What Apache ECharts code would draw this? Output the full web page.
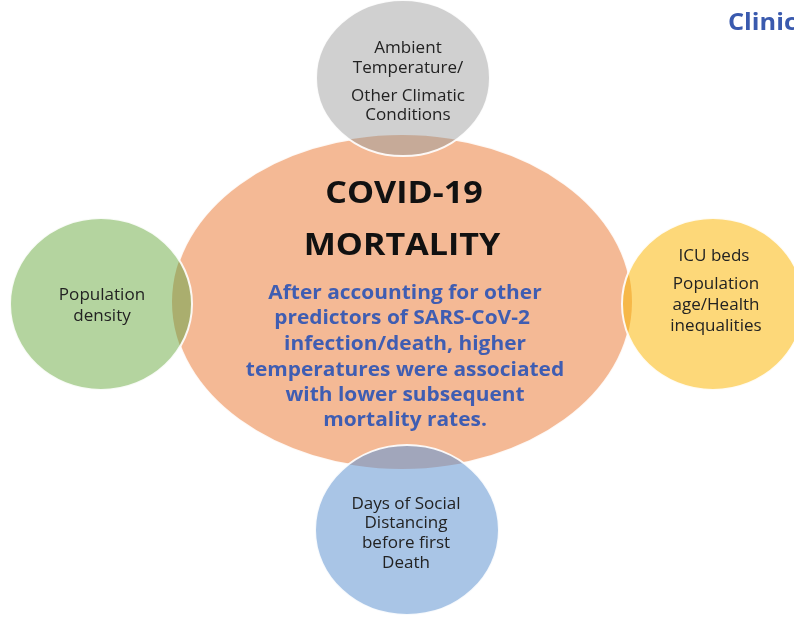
<!DOCTYPE html>
<html>
<head>
<meta charset="utf-8">
<script src="https://cdn.jsdelivr.net/npm/echarts@6/dist/echarts.min.js"></script>
<style>
  html, body { margin: 0; padding: 0; background: #fff; }
  #main { width: 794px; height: 617px; }
</style>
</head>
<body>
<div id="main"></div>
<script>
// bubbles: centre one first, then the four factors around it
const nodeNames = ['COVID-19 mortality', 'Climate', 'Population density', 'ICU beds / age', 'Social distancing'];
const nodeX = [402, 403, 101, 713, 407];
const nodeY = [302, 78, 304, 304, 530];
const nodeRx = [230, 87, 91, 91, 92];
const nodeRy = [167, 78, 86, 86, 85];

// text lines written on the bubbles (plus the cut-off heading at top right)
const lineTexts = [
  'COVID-19', 'MORTALITY',
  'After accounting for other', 'predictors of SARS-CoV-2', 'infection/death, higher',
  'temperatures were associated', 'with lower subsequent', 'mortality rates.',
  'Ambient', 'Temperature/', 'Other Climatic', 'Conditions',
  'Population', 'density',
  'ICU beds', 'Population', 'age/Health', 'inequalities',
  'Days of Social', 'Distancing', 'before first', 'Death',
  'Clinical'
];
const lineX = [
  404, 402,
  405, 402, 405, 405, 405, 405,
  408, 408, 408, 408,
  102, 102,
  714, 716, 716, 716,
  406, 406, 406, 406,
  728
];
const lineY = [
  194, 246,
  294, 319, 345, 371, 396, 421,
  49, 69, 97, 116,
  296, 317,
  257, 285, 306, 327,
  505, 524, 544, 564,
  23
];
const lineKind = [
  't', 't',
  'f', 'f', 'f', 'f', 'f', 'f',
  'n', 'n', 'n', 'n',
  'n', 'n',
  'n', 'n', 'n', 'n',
  'n', 'n', 'n', 'n',
  'h'
];

const fillColors = ['#f4b995', '#d0d0d0', '#b4d49f', '#fdd879', '#a9c5e6'];
// colour where a factor bubble sits on the centre one
const overlapColors = [null, '#c6aa98', '#aaae6e', '#f6b848', '#a1a6bb'];
const FONT = '"Open Sans", sans-serif';
const textStyles = {
  t: { fontSize: 31, fontWeight: 'bold', fill: '#111', align: 'center' },
  f: { fontSize: 19, fontWeight: 'bold', fill: '#3f5db2', align: 'center' },
  n: { fontSize: 15.5, fontWeight: 'normal', fill: '#222', align: 'center' },
  h: { fontSize: 23, fontWeight: 'bold', fill: '#3a5aae', align: 'left' }
};

const chart = echarts.init(document.getElementById('main'), null, { renderer: 'canvas' });

const option = {
  backgroundColor: '#ffffff',
  animation: false,
  grid: { left: 0, right: 0, top: 0, bottom: 0 },
  xAxis: { type: 'value', min: 0, max: 794, show: false },
  yAxis: { type: 'value', min: 0, max: 617, inverse: true, show: false },
  series: [
    {
      type: 'custom',
      name: 'bubbles',
      silent: true,
      data: nodeNames.map((n, i) => [nodeX[i], nodeY[i], nodeRx[i], nodeRy[i], i]),
      renderItem: function (params, api) {
        const c = api.coord([api.value(0), api.value(1)]);
        const s = api.size([api.value(2), api.value(3)]);
        const i = api.value(4);
        const shape = { cx: c[0], cy: c[1], rx: s[0], ry: s[1] };
        const kids = [
          { type: 'ellipse', shape: shape, style: { fill: fillColors[i] } }
        ];
        if (i > 0) {
          // the lens shared with the centre bubble
          const c0 = api.coord([nodeX[0], nodeY[0]]);
          const s0 = api.size([nodeRx[0], nodeRy[0]]);
          kids.push({
            type: 'ellipse',
            shape: shape,
            style: { fill: overlapColors[i] },
            clipPath: { type: 'ellipse', shape: { cx: c0[0], cy: c0[1], rx: s0[0], ry: s0[1] } }
          });
        }
        kids.push({
          type: 'ellipse',
          shape: shape,
          style: { fill: null, stroke: 'rgba(255,255,255,0.9)', lineWidth: 2 }
        });
        return { type: 'group', children: kids };
      }
    },
    {
      type: 'custom',
      name: 'labels',
      silent: true,
      data: lineTexts.map((t, i) => [lineX[i], lineY[i], i]),
      renderItem: function (params, api) {
        const i = api.value(2);
        const c = api.coord([api.value(0), api.value(1)]);
        const st = textStyles[lineKind[i]];
        return {
          type: 'text',
          x: c[0],
          y: c[1],
          scaleX: 1.1,
          style: {
            text: lineTexts[i],
            fontFamily: FONT,
            fontSize: st.fontSize,
            fontWeight: st.fontWeight,
            fill: st.fill,
            align: st.align,
            verticalAlign: 'middle'
          }
        };
      }
    }
  ]
};

chart.setOption(option);
</script>
</body>
</html>
